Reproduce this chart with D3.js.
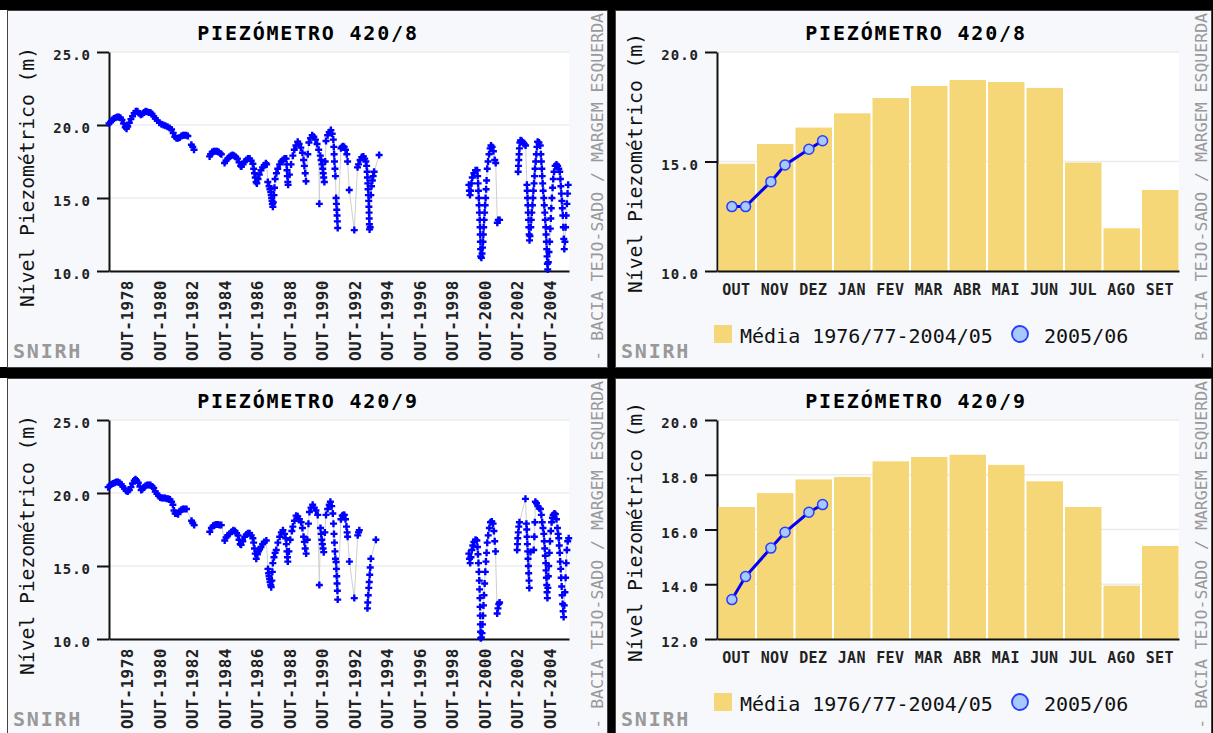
<!DOCTYPE html>
<html>
<head>
  <meta charset="utf-8">
  <title>Piezómetros 420/8 e 420/9</title>
  <script src="https://d3js.org/d3.v7.min.js"></script>
  <style>
    body { margin: 0; background: #fff; }
    svg { display: block; }
    text { font-family: "DejaVu Sans Mono", "Liberation Mono", monospace; }
  </style>
</head>
<body>
<svg id="chart" width="1213" height="733"></svg>
<script>
// ---- dados ----
var anosTicks = [1978, 1980, 1982, 1984, 1986, 1988, 1990, 1992, 1994, 1996, 1998, 2000, 2002, 2004];
var meses = ["OUT", "NOV", "DEZ", "JAN", "FEV", "MAR", "ABR", "MAI", "JUN", "JUL", "AGO", "SET"];

// nível piezométrico médio mensal 1976/77-2004/05
var media420_8 = [14.9, 15.8, 16.55, 17.2, 17.9, 18.45, 18.72, 18.63, 18.36, 14.95, 11.95, 13.7];
var media420_9 = [16.82, 17.33, 17.83, 17.92, 18.49, 18.65, 18.73, 18.36, 17.76, 16.82, 13.95, 15.4];

// medições 2005/06
var datas0506 = ["2005-10-12", "2005-10-23", "2005-11-12", "2005-11-23", "2005-12-12", "2005-12-23"];
var nivel0506_8 = [12.94, 12.94, 14.08, 14.84, 15.56, 15.95];
var nivel0506_9 = [13.44, 14.28, 15.32, 15.9, 16.63, 16.91];

// séries históricas [ano decimal, nível (m)]
var serie420_8 = [
  [1977.65,20.1],[1977.75,20.2],[1977.85,20.35],[1977.95,20.45],[1978.05,20.5],[1978.15,20.55],[1978.25,20.55],
  [1978.35,20.5],[1978.45,20.35],[1978.55,20.1],[1978.65,19.85],[1978.73,19.75],[1978.8,19.9],[1978.9,20.15],
  [1979.0,20.4],[1979.1,20.6],[1979.2,20.8],[1979.3,20.95],[1979.4,20.95],[1979.5,20.8],[1979.6,20.7],
  [1979.7,20.75],[1979.8,20.85],[1979.9,20.95],[1980.0,20.9],[1980.1,20.85],[1980.2,20.85],[1980.3,20.75],
  [1980.4,20.6],[1980.5,20.45],[1980.62,20.3],[1980.75,20.15],[1980.88,20.05],[1981.0,20.0],[1981.12,19.95],
  [1981.25,19.88],[1981.38,19.8],[1981.5,19.7],[1981.6,19.45],[1981.7,19.2],[1981.8,19.1],[1981.9,19.1],
  [1982.0,19.15],[1982.1,19.25],[1982.2,19.3],[1982.3,19.3],[1982.4,19.3],[1982.5,19.25],
  [1982.72,18.65],[1982.8,18.5],[1982.88,18.3],
  [1983.84,17.85],[1983.9,18.0],[1984.0,18.15],[1984.1,18.2],[1984.2,18.2],[1984.3,18.2],[1984.4,18.15],
  [1984.5,18.05],[1984.56,18.0],
  [1984.76,17.4],[1984.85,17.55],[1984.95,17.7],[1985.05,17.8],[1985.15,17.9],[1985.25,17.95],[1985.35,17.9],
  [1985.45,17.8],[1985.55,17.7],[1985.65,17.45],[1985.75,17.2],[1985.8,17.15],[1985.9,17.3],[1986.0,17.5],
  [1986.1,17.6],[1986.2,17.7],[1986.3,17.7],[1986.4,17.55],[1986.5,17.35],[1986.55,17.0],[1986.6,16.7],
  [1986.65,16.4],[1986.7,16.1],[1986.75,16.0],[1986.82,16.3],[1986.9,16.6],[1987.0,16.9],[1987.1,17.1],
  [1987.2,17.25],[1987.3,17.38],[1987.35,17.3],
  [1987.42,16.1],[1987.5,15.8],[1987.55,15.6],[1987.6,15.4],[1987.63,15.2],[1987.66,15.0],[1987.68,14.8],
  [1987.7,14.6],[1987.73,14.4],[1987.76,14.7],[1987.8,15.2],[1987.83,15.7],[1987.87,16.3],[1987.95,16.7],
  [1988.03,17.0],[1988.15,17.3],[1988.25,17.5],[1988.34,17.6],[1988.45,17.7],[1988.55,17.7],[1988.58,17.3],
  [1988.6,16.9],[1988.62,16.5],[1988.65,16.1],[1988.67,15.9],[1988.75,16.6],[1988.85,17.3],[1988.96,17.9],
  [1989.05,18.3],[1989.15,18.6],[1989.26,18.85],[1989.35,18.7],[1989.45,18.45],[1989.55,18.1],[1989.62,17.6],
  [1989.67,17.2],[1989.72,16.7],[1989.77,16.15],[1989.88,18.0],[1989.95,18.8],[1990.05,19.1],[1990.15,19.3],
  [1990.25,19.2],[1990.35,19.0],[1990.45,18.7],[1990.55,18.3],[1990.59,14.6],[1990.65,17.9],[1990.7,17.6],
  [1990.75,17.3],[1990.8,17.0],[1990.83,16.7],[1990.86,16.4],[1990.9,16.1],[1990.95,17.5],[1991.0,18.9],
  [1991.1,19.3],[1991.2,19.5],[1991.3,19.65],[1991.38,19.4],[1991.45,19.0],[1991.48,18.5],[1991.5,18.0],
  [1991.52,17.5],[1991.55,17.0],[1991.58,16.5],[1991.62,15.0],[1991.64,14.6],[1991.66,14.2],[1991.68,13.8],
  [1991.7,13.4],[1991.72,12.95],
  [1991.92,18.4],[1991.98,18.5],[1992.05,18.55],[1992.12,18.5],[1992.2,18.3],[1992.28,18.0],[1992.33,17.5],
  [1992.43,15.55],[1992.74,12.8],[1992.94,17.1],[1993.0,17.3],[1993.1,17.6],[1993.2,17.8],[1993.3,17.85],
  [1993.38,17.7],[1993.45,17.5],[1993.5,17.2],[1993.53,16.8],[1993.55,16.4],[1993.57,16.0],[1993.59,15.6],
  [1993.61,15.2],[1993.63,14.8],[1993.64,14.4],[1993.65,14.0],[1993.66,13.6],[1993.67,13.2],[1993.68,12.85],
  [1993.72,13.0],[1993.76,15.2],[1993.8,15.8],[1993.85,16.2],[1993.9,16.5],[1993.96,16.8],[1994.27,17.95],
  [1999.79,15.9],[1999.82,15.5],[1999.86,15.2],[1999.9,15.5],[1999.95,16.0],[2000.0,16.4],[2000.1,16.7],
  [2000.2,16.9],[2000.3,16.9],[2000.33,16.5],[2000.36,16.0],[2000.38,15.5],[2000.4,15.0],[2000.42,14.5],
  [2000.44,14.0],[2000.46,13.5],[2000.48,13.0],[2000.49,12.5],[2000.5,12.0],[2000.51,11.5],[2000.52,11.0],
  [2000.56,10.9],[2000.6,11.2],[2000.63,11.6],[2000.66,12.0],[2000.68,12.5],[2000.7,13.0],[2000.73,13.5],
  [2000.76,14.0],[2000.79,14.5],[2000.82,15.0],[2000.85,15.6],[2000.88,16.2],[2000.92,17.0],[2000.97,17.5],
  [2001.03,18.0],[2001.1,18.4],[2001.15,18.6],[2001.22,18.5],[2001.3,18.2],[2001.38,17.6],[2001.44,17.4],
  [2001.54,13.3],[2001.6,13.5],[2001.68,13.5],
  [2002.82,16.8],[2002.84,17.2],[2002.86,17.6],[2002.88,18.0],[2002.9,18.4],[2002.93,18.8],[2002.97,18.95],
  [2003.05,18.9],[2003.12,18.8],[2003.2,18.7],[2003.28,18.6],[2003.36,15.9],[2003.38,15.5],[2003.4,15.0],
  [2003.42,14.5],[2003.44,14.0],[2003.46,13.5],[2003.48,13.0],[2003.5,12.5],[2003.52,12.1],[2003.55,12.4],
  [2003.6,13.0],[2003.63,13.5],[2003.66,14.0],[2003.7,14.5],[2003.73,15.0],[2003.76,15.5],[2003.8,16.0],
  [2003.83,16.5],[2003.86,17.0],[2003.9,17.5],[2003.94,18.0],[2003.98,18.5],[2004.02,18.85],[2004.1,18.8],
  [2004.18,18.6],[2004.22,18.0],[2004.25,17.5],[2004.28,17.0],[2004.3,16.5],[2004.33,16.0],[2004.36,15.5],
  [2004.4,15.0],[2004.43,14.5],[2004.46,14.0],[2004.49,13.5],[2004.52,13.0],[2004.54,12.5],[2004.56,12.0],
  [2004.58,11.5],[2004.6,11.0],[2004.62,10.5],[2004.64,10.1],[2004.68,10.6],[2004.72,11.3],[2004.76,12.0],
  [2004.8,12.9],[2004.83,13.6],[2004.86,14.3],[2004.9,15.0],[2004.94,15.7],[2004.98,16.3],[2005.03,16.8],
  [2005.1,17.2],[2005.18,17.3],[2005.25,17.2],[2005.32,17.0],[2005.38,16.8],[2005.42,16.3],[2005.45,15.8],
  [2005.48,15.3],[2005.51,14.8],[2005.54,14.3],[2005.57,13.8],[2005.6,13.0],[2005.63,12.2],[2005.66,11.5],
  [2005.7,12.0],[2005.74,13.0],[2005.78,13.8],[2005.82,14.6],[2005.86,15.3],[2005.9,15.9]
];

var serie420_9 = [
  [1977.6,20.4],[1977.7,20.5],[1977.8,20.6],[1977.9,20.65],[1978.0,20.7],[1978.1,20.75],[1978.2,20.75],
  [1978.3,20.7],[1978.4,20.6],[1978.5,20.45],[1978.6,20.3],[1978.7,20.15],[1978.8,20.1],[1978.9,20.2],
  [1979.0,20.4],[1979.1,20.65],[1979.2,20.85],[1979.28,20.95],[1979.36,20.85],[1979.45,20.7],[1979.55,20.45],
  [1979.63,20.2],[1979.7,20.25],[1979.8,20.4],[1979.9,20.5],[1980.0,20.55],[1980.1,20.55],[1980.2,20.55],
  [1980.3,20.45],[1980.4,20.35],[1980.5,20.1],[1980.6,19.95],[1980.7,19.8],[1980.8,19.7],[1980.9,19.65],
  [1981.0,19.65],[1981.1,19.65],[1981.2,19.6],[1981.3,19.6],[1981.4,19.55],[1981.5,19.4],[1981.58,19.2],
  [1981.65,18.8],[1981.72,18.6],[1981.8,18.6],[1981.9,18.55],[1982.0,18.75],[1982.1,18.85],[1982.2,18.9],
  [1982.3,18.9],[1982.42,18.9],
  [1982.73,18.1],[1982.8,17.95],[1982.89,17.8],
  [1983.85,17.35],[1983.95,17.6],[1984.05,17.75],[1984.15,17.8],[1984.25,17.85],[1984.35,17.85],[1984.45,17.8],
  [1984.56,17.8],
  [1984.77,16.75],[1984.85,16.95],[1984.95,17.1],[1985.07,17.2],[1985.2,17.35],[1985.3,17.45],[1985.4,17.4],
  [1985.5,17.25],[1985.58,17.1],[1985.65,16.8],[1985.72,16.5],[1985.78,16.45],[1985.88,16.7],[1986.0,17.0],
  [1986.1,17.15],[1986.2,17.25],[1986.3,17.25],[1986.4,17.1],[1986.5,16.9],[1986.55,16.6],[1986.6,16.2],
  [1986.65,15.85],[1986.71,15.5],[1986.78,15.8],[1986.85,16.0],[1986.92,16.15],[1987.0,16.3],[1987.1,16.5],
  [1987.2,16.65],[1987.33,16.75],
  [1987.43,14.8],[1987.47,14.5],[1987.5,14.3],[1987.53,14.1],[1987.56,13.9],[1987.6,13.7],[1987.63,13.55],
  [1987.67,14.0],[1987.7,14.6],[1987.73,15.2],[1987.8,15.6],[1987.87,15.9],[1987.94,16.1],[1988.04,16.6],
  [1988.15,17.0],[1988.25,17.3],[1988.35,17.45],[1988.45,17.2],[1988.52,16.9],[1988.56,16.5],[1988.6,16.0],
  [1988.63,15.6],[1988.65,15.3],[1988.72,16.0],[1988.8,16.8],[1988.9,17.4],[1988.96,17.7],[1989.06,18.1],
  [1989.16,18.45],[1989.26,18.4],[1989.36,18.2],[1989.47,18.0],[1989.55,17.6],[1989.62,17.0],[1989.67,16.65],
  [1989.72,16.2],[1989.78,15.85],[1989.85,16.8],[1989.92,17.9],[1989.98,18.7],[1990.08,19.0],[1990.18,19.2],
  [1990.28,19.0],[1990.38,18.8],[1990.49,18.5],[1990.59,13.7],[1990.66,17.6],[1990.7,17.2],[1990.74,16.8],
  [1990.78,16.5],[1990.82,16.2],[1990.86,15.95],[1990.93,17.3],[1991.0,18.5],[1991.1,18.9],[1991.2,19.2],
  [1991.27,19.4],[1991.35,19.1],[1991.42,18.6],[1991.46,17.9],[1991.49,17.2],[1991.52,16.6],[1991.55,16.0],
  [1991.58,15.5],[1991.62,15.27],[1991.64,14.8],[1991.66,14.3],[1991.68,13.8],[1991.7,13.3],[1991.72,12.7],
  [1991.92,18.2],[1992.0,18.45],[1992.07,18.5],[1992.13,18.5],[1992.2,18.2],[1992.26,17.7],[1992.3,17.3],
  [1992.33,17.0],[1992.44,15.3],[1992.74,12.8],[1992.95,17.1],[1993.0,17.3],[1993.05,17.45],
  [1993.55,12.1],[1993.57,12.5],[1993.6,13.0],[1993.63,13.5],[1993.66,13.9],[1993.69,14.4],[1993.72,14.9],
  [1993.76,15.5],[1994.07,16.8],
  [1999.79,15.85],[1999.83,15.5],[1999.87,15.2],[1999.92,15.6],[1999.97,16.1],[2000.03,16.4],[2000.1,16.65],
  [2000.2,16.8],[2000.28,16.75],[2000.32,16.3],[2000.35,15.8],[2000.38,15.2],[2000.41,14.6],[2000.43,14.0],
  [2000.45,13.4],[2000.47,12.8],[2000.48,12.2],[2000.49,11.6],[2000.5,11.0],[2000.51,10.5],[2000.52,10.05],
  [2000.56,10.1],[2000.6,10.4],[2000.63,11.0],[2000.66,11.6],[2000.69,12.3],[2000.72,13.0],[2000.76,13.8],
  [2000.8,14.6],[2000.84,15.3],[2000.88,15.9],[2000.92,16.6],[2000.98,17.1],[2001.05,17.6],[2001.12,18.0],
  [2001.2,18.05],[2001.28,17.9],[2001.33,17.4],[2001.38,16.7],[2001.43,16.0],[2001.53,11.75],[2001.58,12.1],
  [2001.63,12.4],[2001.68,12.5],
  [2002.76,16.1],[2002.78,16.5],[2002.8,16.9],[2002.83,17.3],[2002.86,17.7],[2002.9,18.0],[2003.27,19.6],
  [2003.33,17.9],[2003.35,17.5],[2003.37,17.0],[2003.39,16.5],[2003.41,16.0],[2003.43,15.5],[2003.45,15.0],
  [2003.47,14.5],[2003.49,14.0],[2003.51,13.5],[2003.58,15.96],[2003.78,16.1],[2003.82,17.0],[2003.85,18.0],
  [2003.88,19.4],[2003.95,19.3],[2004.03,19.1],[2004.12,18.95],[2004.19,18.9],[2004.25,18.5],[2004.3,18.0],
  [2004.35,17.6],[2004.4,17.2],[2004.43,16.7],[2004.46,16.2],[2004.49,15.7],[2004.52,15.2],[2004.54,14.7],
  [2004.56,14.2],[2004.58,13.7],[2004.6,13.2],[2004.62,12.8],[2004.65,13.5],[2004.68,14.3],[2004.7,15.0],
  [2004.74,15.9],[2004.78,16.7],[2004.83,17.4],[2004.88,18.0],[2004.93,18.3],[2004.98,18.5],[2005.05,18.6],
  [2005.11,18.55],[2005.18,18.2],[2005.24,17.6],[2005.28,17.2],[2005.32,16.9],[2005.35,16.4],[2005.38,15.9],
  [2005.41,15.3],[2005.44,14.8],[2005.47,14.2],[2005.5,13.6],[2005.53,13.0],[2005.56,12.4],[2005.59,11.9],
  [2005.62,11.5],[2005.66,12.3],[2005.7,13.2],[2005.74,14.2],[2005.78,15.2],[2005.82,16.1],[2005.87,16.7],
  [2005.93,16.9]
];

// ---- desenho ----
var svg = d3.select("#chart");
var fundoPainel = "#f6f8fc";
var corBarra = "#f5d778";

// moldura preta entre as imagens
svg.append("rect").attr("width", 1213).attr("height", 733).attr("fill", "#fff");
svg.append("rect").attr("x", 0).attr("y", 0).attr("width", 1213).attr("height", 10).attr("fill", "#000");
svg.append("rect").attr("x", 607).attr("y", 0).attr("width", 9).attr("height", 733).attr("fill", "#000");
svg.append("rect").attr("x", 0).attr("y", 367).attr("width", 1213).attr("height", 11).attr("fill", "#000");
svg.append("rect").attr("x", 1211).attr("y", 0).attr("width", 2).attr("height", 733).attr("fill", "#000");

var nClip = 0;
function painel(px, py, w, h, titulo, yTituloCentro) {
  var g = svg.append("g").attr("transform", "translate(" + px + "," + py + ")");
  var id = "clip" + (nClip++);
  g.append("clipPath").attr("id", id).append("rect").attr("width", w).attr("height", h);
  var c = g.append("g").attr("clip-path", "url(#" + id + ")");
  c.append("rect").attr("width", w).attr("height", h).attr("fill", fundoPainel);

  c.append("text").attr("x", 300).attr("y", 29).attr("text-anchor", "middle")
    .style("font-size", "20px").style("font-weight", "bold").style("letter-spacing", "1.8px")
    .text(titulo);

  c.append("text").attr("transform", "translate(26," + yTituloCentro + ") rotate(-90)")
    .attr("text-anchor", "middle").style("font-size", "19px").attr("fill", "#111")
    .attr("textLength", 260).attr("lengthAdjust", "spacingAndGlyphs")
    .text("Nível Piezométrico (m)");

  c.append("text").attr("x", 5).attr("y", 347).attr("fill", "#999")
    .style("font-size", "20px").style("font-weight", "bold").style("letter-spacing", "1.8px")
    .text("SNIRH");

  c.append("text").attr("transform", "translate(" + (w - 4) + ",2) rotate(-90)")
    .attr("text-anchor", "end").attr("fill", "#999").style("font-size", "16.5px")
    .text("- BACIA TEJO-SADO / MARGEM ESQUERDA");

  g.append("rect").attr("x", -0.5).attr("y", -0.5).attr("width", w + 1).attr("height", h + 1)
    .attr("fill", "none").attr("stroke", "#444").attr("stroke-width", 1);
  return c;
}

function estiloEixo(eixo) {
  eixo.select(".domain").attr("stroke", "#111").attr("stroke-width", 2);
  eixo.selectAll(".tick line").attr("stroke", "#111").attr("stroke-width", 2);
  eixo.selectAll("text").attr("fill", "#222").style("font-family", '"DejaVu Sans Mono", monospace')
    .style("font-weight", "bold");
}

function eixoNivel(c, y, ticks, x0, x1) {
  c.append("g").selectAll("line").data(ticks).enter().append("line")
    .attr("x1", x0).attr("x2", x1)
    .attr("y1", function(d) { return y(d); }).attr("y2", function(d) { return y(d); })
    .attr("stroke", "#ececec").attr("stroke-width", 1.5);
  var eixo = c.append("g").attr("transform", "translate(" + x0 + ",0)")
    .call(d3.axisLeft(y).tickValues(ticks).tickFormat(d3.format(".1f")).tickSize(12).tickSizeOuter(0).tickPadding(6));
  estiloEixo(eixo);
  eixo.selectAll("text").style("font-size", "14px").style("letter-spacing", "1px").attr("dy", "0.55em");
}

function serieTemporal(c, serie, yDom, yTicks) {
  var x = d3.scaleLinear().domain([1977.65, 2005.95]).range([101, 561]);
  var y = d3.scaleLinear().domain(yDom).range([260, 41]);
  c.append("rect").attr("x", 101).attr("y", 41).attr("width", 460).attr("height", 219).attr("fill", "#fff");
  eixoNivel(c, y, yTicks, 101, 561);

  var eixoX = c.append("g").attr("transform", "translate(0,260)")
    .call(d3.axisBottom(x).tickValues(anosTicks.map(function(a) { return a + 0.75; }))
      .tickFormat(function(d) { return "OUT-" + Math.round(d - 0.75); }).tickSize(0).tickSizeOuter(0));
  estiloEixo(eixoX);
  eixoX.selectAll("text").attr("transform", "rotate(-90)").attr("text-anchor", "end")
    .attr("x", -9).attr("y", 0).attr("dy", "0.36em").style("font-size", "16px").style("letter-spacing", "0.5px");

  // troços ligados por linha cinzenta (interrompidos nas falhas de registo)
  var trocos = [], atual = [];
  serie.forEach(function(p, i) {
    if (i > 0 && p[0] - serie[i - 1][0] > 0.45) { trocos.push(atual); atual = []; }
    atual.push(p);
  });
  trocos.push(atual);
  var linha = d3.line().x(function(d) { return x(d[0]); }).y(function(d) { return y(d[1]); });
  c.append("g").selectAll("path").data(trocos).enter().append("path")
    .attr("d", linha).attr("fill", "none").attr("stroke", "#cfcfcf").attr("stroke-width", 1);

  // marcadores "+"
  c.append("g").selectAll("path").data(serie).enter().append("path")
    .attr("d", "M-3.5,0H3.5M0,-3.5V3.5")
    .attr("transform", function(d) { return "translate(" + x(d[0]) + "," + y(d[1]) + ")"; })
    .attr("fill", "none").attr("stroke", "#0000ff").attr("stroke-width", 2.4);
}

function mediasMensais(c, medias, niveis, yDom, yTicks) {
  var x = d3.scaleBand().domain(meses).range([101, 563]);
  var xt = d3.scaleLinear().domain([0, 12]).range([101, 563]);
  var y = d3.scaleLinear().domain(yDom).range([260, 41]);
  c.append("rect").attr("x", 101).attr("y", 41).attr("width", 462).attr("height", 219).attr("fill", "#fff");
  eixoNivel(c, y, yTicks, 101, 563);

  c.append("g").selectAll("rect").data(medias).enter().append("rect")
    .attr("x", function(d, i) { return x(meses[i]) + 1.5; })
    .attr("width", x.bandwidth() - 2)
    .attr("y", function(d) { return y(d); })
    .attr("height", function(d) { return y(yDom[0]) - y(d); })
    .attr("fill", corBarra);

  var eixoX = c.append("g").attr("transform", "translate(0,260)")
    .call(d3.axisBottom(x).tickSize(0).tickSizeOuter(0).tickPadding(0));
  estiloEixo(eixoX);
  eixoX.selectAll("text").attr("y", 24).attr("dy", 0).style("font-size", "15px").style("letter-spacing", "0.3px");

  var pontos = datas0506.map(function(s, i) {
    var dt = new Date(s + "T12:00:00");
    var m = (dt.getMonth() - 9 + 12) % 12;
    var dias = new Date(dt.getFullYear(), dt.getMonth() + 1, 0).getDate();
    return [m + dt.getDate() / dias, niveis[i]];
  });
  c.append("path").datum(pontos)
    .attr("d", d3.line().x(function(d) { return xt(d[0]); }).y(function(d) { return y(d[1]); }))
    .attr("fill", "none").attr("stroke", "#0000ff").attr("stroke-width", 3);
  c.append("g").selectAll("circle").data(pontos).enter().append("circle")
    .attr("cx", function(d) { return xt(d[0]); }).attr("cy", function(d) { return y(d[1]); })
    .attr("r", 5).attr("fill", "#a6c9ff").attr("stroke", "#2a3cff").attr("stroke-width", 1.5);

  // legenda
  c.append("rect").attr("x", 98).attr("y", 314).attr("width", 18).attr("height", 18).attr("fill", corBarra);
  c.append("text").attr("x", 124).attr("y", 332).style("font-size", "20px").attr("fill", "#111")
    .text("Média 1976/77-2004/05");
  c.append("circle").attr("cx", 404).attr("cy", 323).attr("r", 8)
    .attr("fill", "#a6c9ff").attr("stroke", "#2a3cff").attr("stroke-width", 1.8);
  c.append("text").attr("x", 428).attr("y", 332).style("font-size", "20px").attr("fill", "#111")
    .text("2005/06");
}

var p1 = painel(8, 11, 599, 356, "PIEZÓMETRO 420/8", 166);
serieTemporal(p1, serie420_8, [10, 25], [10, 15, 20, 25]);

var p2 = painel(616, 11, 595, 356, "PIEZÓMETRO 420/8", 152);
mediasMensais(p2, media420_8, nivel0506_8, [10, 20], [10, 15, 20]);

var p3 = painel(8, 379, 599, 356, "PIEZÓMETRO 420/9", 166);
serieTemporal(p3, serie420_9, [10, 25], [10, 15, 20, 25]);

var p4 = painel(616, 379, 595, 356, "PIEZÓMETRO 420/9", 153);
mediasMensais(p4, media420_9, nivel0506_9, [12, 20], [12, 14, 16, 18, 20]);
</script>
</body>
</html>
